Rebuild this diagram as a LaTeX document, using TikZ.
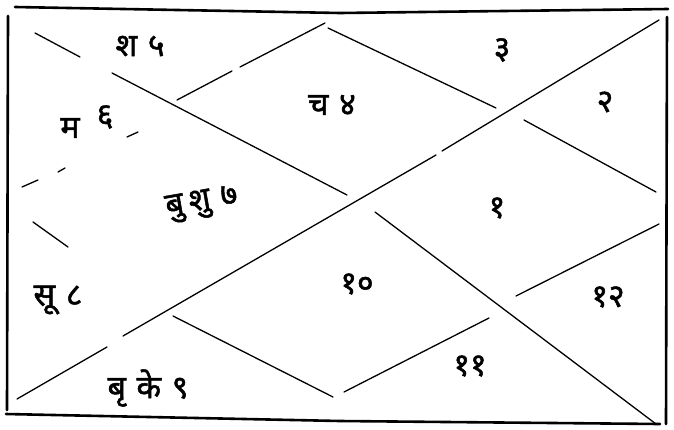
\documentclass[tikz,border=0pt]{standalone}
\usepackage{fontspec}
\newfontfamily\deva[Script=Devanagari,FakeBold=1.6]{Noto Sans}
\begin{document}
\begin{tikzpicture}[x=1pt,y=-1pt,
  frame/.style={line width=2.6pt,line cap=round},
  rule/.style={line width=1.3pt,line cap=round},
  lbl/.style={font=\deva\fontsize{32}{36}\selectfont,inner sep=0pt}]
\useasboundingbox (0,0) rectangle (674,429);
% frame
\draw[frame] (15,7) -- (340,13) -- (668,9);
\draw[frame] (667,17) -- (666,424);
\draw[frame] (6,414) -- (340,421) -- (660,424);
\draw[frame] (8,16) -- (7,410);
% diagonal bottom-left to top-right
\draw[rule] (17,399) -- (107,347);
\draw[rule] (123,336) -- (436,155);
\draw[rule] (442,151) -- (659,20);
% diagonal top-left to bottom-right
\draw[rule] (35,33) -- (80,57);
\draw[rule] (112,73) -- (347,195);
\draw[rule] (375,212) -- (656,424);
% inner diamond, upper left edge
\draw[rule] (22,187) -- (38,180);
\draw[rule] (58,172) -- (65,168);
\draw[rule] (127,137) -- (138,132);
\draw[rule] (177,100) -- (232,71);
\draw[rule] (240,67) -- (325,23);
% upper right edge
\draw[rule] (328,28) -- (496,108);
\draw[rule] (524,120) -- (656,192);
% lower right edge
\draw[rule] (659,224) -- (516,296);
\draw[rule] (489,318) -- (344,392);
% lower left edge
\draw[rule] (33,222) -- (68,247);
\draw[rule] (173,316) -- (333,397);
% labels
\node[lbl] (h5) at (140,46) {श\,\,५};
\node[lbl] (h4) at (332,105) {च\,\,४};
\node[lbl] (h3) at (502,50) {३};
\node[lbl] (h2) at (605,102) {२};
\node[lbl] (h6a) at (70,128) {म};
\node[lbl] (h6b) at (105,117) {६};
\node[lbl,rotate=10] (h7) at (202,204) {बु\,शु\,\,७};
\node[lbl] (h1) at (497,208) {१};
\node[lbl] (h8) at (58,300) {सू\,\,८};
\node[lbl] (h10) at (357,284) {१०};
\node[lbl] (h12) at (608,297) {१२};
\node[lbl] (h11) at (470,366) {११};
\node[lbl] (h9) at (148,388) {बृ\,\,के\,\,९};
\end{tikzpicture}
\end{document}
